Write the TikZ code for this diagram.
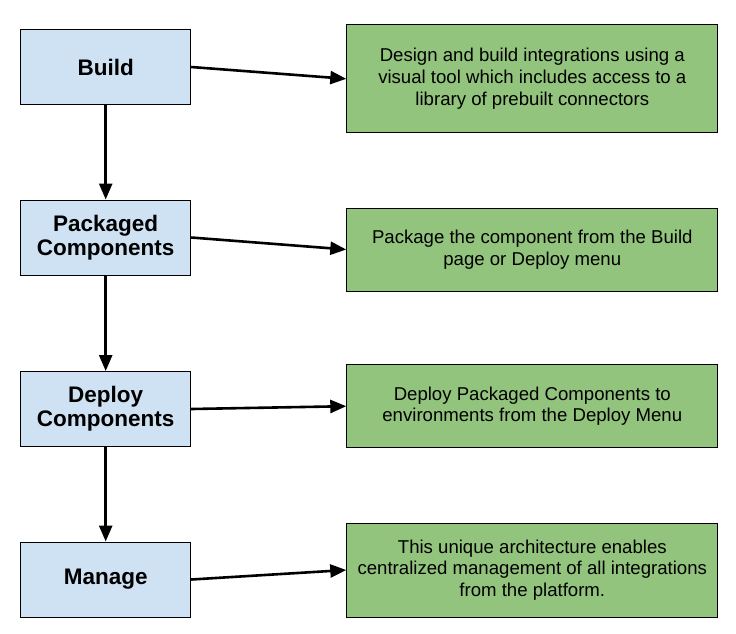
\documentclass[tikz,border=0pt]{standalone}
\usepackage{fontspec}
\setmainfont{Liberation Sans}
\usetikzlibrary{arrows.meta}
\definecolor{stageblue}{HTML}{CFE2F3}
\definecolor{notegreen}{HTML}{93C47D}
\begin{document}
\begin{tikzpicture}[x=1pt, y=-1pt,
        stage/.style = {draw, line width=1pt, fill=stageblue, minimum width=170pt, minimum height=75pt, align=center, font=\fontsize{22.5}{24}\selectfont\bfseries},
        note/.style = {draw, line width=1pt, fill=notegreen, minimum width=371pt, align=center, font=\fontsize{18.6}{21.8}\selectfont},
        flow/.style = {line width=2.6pt, -{Triangle[length=16pt, width=13pt]}}]
            \useasboundingbox (0,0) rectangle (736,633);
            \node[stage] (build) at (105.7,67) {Build};
            \node[stage] (pack) at (105.7,237.5) {Packaged\\Components};
            \node[stage] (deploy) at (105.7,409) {Deploy\\Components};
            \node[stage] (manage) at (105.7,579.5) {Manage};
            \node[note, minimum height=108pt] (buildnote) at (532.3,78.8) {Design and build integrations using a\\visual tool which includes access to a\\library of prebuilt connectors};
            \node[note, minimum height=83pt] (packnote) at (532.3,249.5) {Package the component from the Build\\page or Deploy menu};
            \node[note, minimum height=83pt] (deploynote) at (532.3,406.2) {Deploy Packaged Components to\\environments from the Deploy Menu};
            \node[note, minimum height=94pt] (managenote) at (532.3,570) {This unique architecture enables\\centralized management of all integrations\\from the platform.};
            \draw[flow] (build) -- (pack);
            \draw[flow] (pack) -- (deploy);
            \draw[flow] (deploy) -- (manage);
            \draw[flow] (build.east) -- (buildnote.west);
            \draw[flow] (pack.east) -- (packnote.west);
            \draw[flow] (deploy.east) -- (deploynote.west);
            \draw[flow] (manage.east) -- (managenote.west);
        \end{tikzpicture}
\end{document}
